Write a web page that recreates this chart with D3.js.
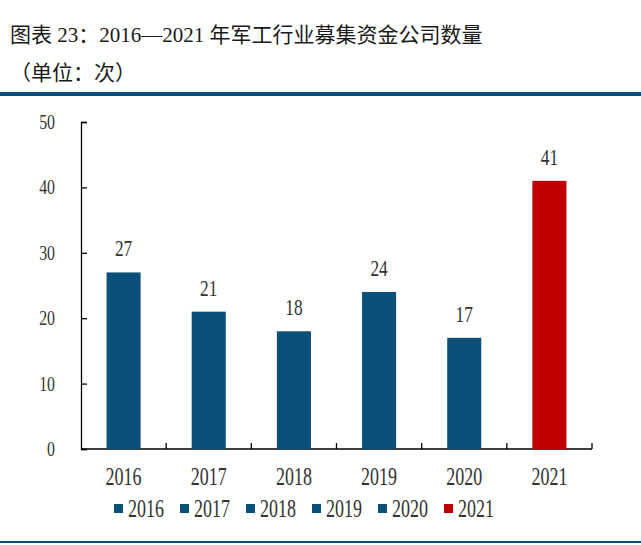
<!DOCTYPE html>
<html>
<head>
<meta charset="utf-8">
<script src="https://cdn.jsdelivr.net/npm/d3@7"></script>
<style>
  body { margin: 0; background: #fff; }
  svg { display: block; }
</style>
</head>
<body>
<div id="chart"></div>
<script>
'use strict';

// chart data
var years = ['2016', '2017', '2018', '2019', '2020', '2021'];
var counts = [27, 21, 18, 24, 17, 41];
var yTicks = [0, 10, 20, 30, 40, 50];
var barColors = ['#0b5078', '#0b5078', '#0b5078', '#0b5078', '#0b5078', '#c00000'];

function drawChart() {
    var W = 641, H = 545;
    var serif = '"Liberation Serif", "Times New Roman", serif';
    var mixed = '"Liberation Serif", "Noto Sans CJK SC", serif';
    var squeeze = 0.72; // digits in the source are tall & narrow

    var svg = d3.select('#chart').append('svg')
        .attr('width', W)
        .attr('height', H);

    // narrow-number helper
    function numText(sel, size) {
        return sel.attr('font-family', serif)
            .attr('font-size', size)
            .attr('fill', '#333');
    }

    // Title
    svg.append('text')
        .attr('x', 10).attr('y', 42)
        .attr('font-family', mixed)
        .attr('font-size', 21)
        .attr('fill', '#1a1a1a')
        .text('图表 23：2016—2021 年军工行业募集资金公司数量');
    svg.append('text')
        .attr('x', 10).attr('y', 80)
        .attr('font-family', mixed)
        .attr('font-size', 21)
        .attr('fill', '#1a1a1a')
        .text('（单位：次）');

    svg.append('rect').attr('x', 0).attr('y', 92).attr('width', W).attr('height', 4).attr('fill', '#0b5078');
    svg.append('rect').attr('x', 0).attr('y', 541).attr('width', W).attr('height', 2).attr('fill', '#0b5078');

    var pLeft = 81, pRight = 592, pTop = 122, pBottom = 449;

    var x = d3.scaleBand().domain(years).range([pLeft, pRight]).paddingInner(0.6).paddingOuter(0.3);
    var xEdge = d3.scaleLinear().domain([0, years.length]).range([pLeft, pRight]);
    var y = d3.scaleLinear().domain([0, 50]).range([pBottom, pTop]);

    // y axis (labels drawn separately so they can be squeezed)
    var yAxis = svg.append('g')
        .attr('transform', 'translate(' + pLeft + ',0)')
        .call(d3.axisLeft(y).tickValues(yTicks).tickSize(-6).tickFormat(''));
    yAxis.select('.domain').attr('stroke', '#000').attr('stroke-width', 1.3);
    yAxis.selectAll('.tick line').attr('stroke', '#000').attr('stroke-width', 1.3);

    svg.selectAll('text.ylab')
        .data(yTicks)
        .enter().append('text')
        .attr('class', 'ylab')
        .attr('transform', function(d) { return 'translate(55,' + (y(d) + 7) + ') scale(' + squeeze + ',1)'; })
        .attr('text-anchor', 'end')
        .call(numText, 22)
        .text(function(d) { return d; });

    // x axis baseline + boundary ticks
    svg.append('line')
        .attr('x1', pLeft).attr('x2', pRight).attr('y1', pBottom).attr('y2', pBottom)
        .attr('stroke', '#000').attr('stroke-width', 1.3);
    svg.selectAll('line.xtick')
        .data(d3.range(1, years.length + 1))
        .enter().append('line')
        .attr('class', 'xtick')
        .attr('x1', function(d) { return xEdge(d); })
        .attr('x2', function(d) { return xEdge(d); })
        .attr('y1', pBottom).attr('y2', pBottom - 6)
        .attr('stroke', '#000').attr('stroke-width', 1.3);

    svg.selectAll('text.xlab')
        .data(years)
        .enter().append('text')
        .attr('class', 'xlab')
        .attr('transform', function(d) { return 'translate(' + (x(d) + x.bandwidth() / 2) + ',485) scale(' + squeeze + ',1)'; })
        .attr('text-anchor', 'middle')
        .call(numText, 25)
        .text(function(d) { return d; });

    // bars
    svg.selectAll('rect.bar')
        .data(counts)
        .enter().append('rect')
        .attr('class', 'bar')
        .attr('x', function(d, i) { return x(years[i]); })
        .attr('y', function(d) { return y(d); })
        .attr('width', x.bandwidth())
        .attr('height', function(d) { return pBottom - y(d); })
        .attr('fill', function(d, i) { return barColors[i]; });

    svg.selectAll('text.val')
        .data(counts)
        .enter().append('text')
        .attr('class', 'val')
        .attr('transform', function(d, i) { return 'translate(' + (x(years[i]) + x.bandwidth() / 2) + ',' + (y(d) - 16) + ') scale(' + squeeze + ',1)'; })
        .attr('text-anchor', 'middle')
        .call(numText, 24)
        .text(function(d) { return d; });

    // legend
    var legend = svg.selectAll('g.leg')
        .data(years)
        .enter().append('g')
        .attr('class', 'leg')
        .attr('transform', function(d, i) { return 'translate(' + (114 + i * 66) + ',504)'; });
    legend.append('rect')
        .attr('x', 0).attr('y', 0).attr('width', 9).attr('height', 9)
        .attr('fill', function(d, i) { return barColors[i]; });
    legend.append('text')
        .attr('transform', 'translate(14,13) scale(' + squeeze + ',1)')
        .call(numText, 25)
        .text(function(d) { return d; });
}

drawChart();
</script>
</body>
</html>
